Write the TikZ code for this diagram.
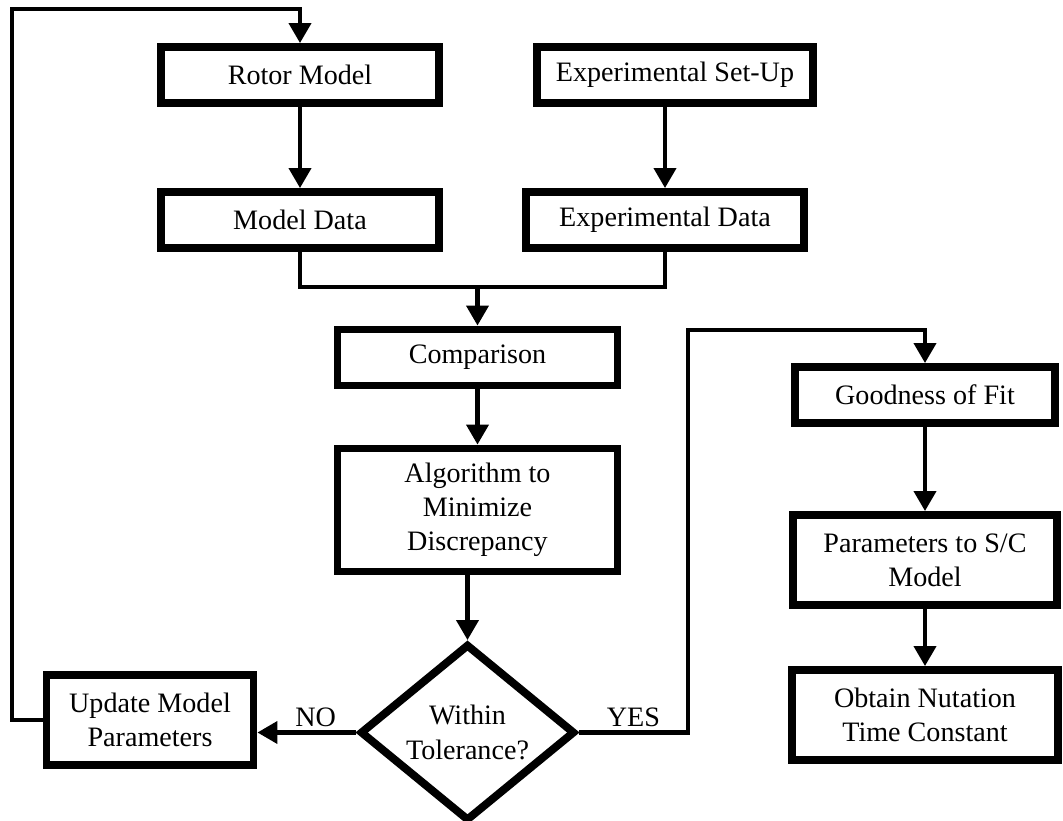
\documentclass[tikz,border=0pt]{standalone}
\usepackage{fontspec}
\setmainfont{Liberation Serif}
\usepackage{tikz}
\usetikzlibrary{shapes.geometric, arrows.meta, positioning}
\tikzstyle{box} = [
    rectangle, minimum width=5.56cm, minimum height=1.12cm, inner sep=2pt,
    text centered, align=center, draw=black, line width=4.5pt,
    font=\fontsize{16}{19.5}\selectfont
]
\tikzstyle{box_tall} = [box, minimum height=1.8cm]
\tikzstyle{decision} = [
    diamond, draw=black, line width=4.5pt, align=center, text centered,
    minimum width=4.3cm, minimum height=3.25cm, inner sep=0pt,
    font=\fontsize{16}{19.5}\selectfont
]
\tikzstyle{arrow} = [line width=2.3pt, -{Triangle[length=0.4cm, width=0.44cm]}]
\tikzstyle{line} = [line width=2.3pt]
\tikzstyle{answer} = [font=\fontsize{16}{19.5}\selectfont, inner sep=2pt]

\begin{document}
\begin{tikzpicture}[node distance=2.9cm]
\useasboundingbox (0,0) rectangle (21.26,-16.42);
% Blocos do modelo e do experimento
\node (rotor) [box] at (6.0,-1.5) {Rotor Model};
\node (setup) [box, right of=rotor, xshift=4.6cm, minimum width=5.52cm] {Experimental Set-Up};
\node (mdata) [box, below of=rotor] {Model Data};
\node (edata) [box, below of=setup, xshift=-0.2cm] {Experimental Data};
\node (cmp) [box, below of=mdata, xshift=3.55cm, yshift=0.15cm, minimum width=5.6cm] {Comparison};
\node (algo) [box, below of=cmp, yshift=-0.15cm, minimum width=5.6cm, minimum height=2.46cm] {Algorithm to\\Minimize\\Discrepancy};
\node (tol) [decision, below of=algo, xshift=-0.2cm, yshift=-1.55cm] {Within\\Tolerance?};
\node (update) [box_tall, left of=tol, xshift=-3.45cm, yshift=0.25cm, minimum width=4.14cm] {Update Model\\Parameters};

% Lado direito
\node (fit) [box, right of=cmp, xshift=6.05cm, yshift=-0.75cm, minimum width=5.2cm] {Goodness of Fit};
\node (params) [box_tall, below of=fit, yshift=-0.4cm, minimum width=5.28cm] {Parameters to S/C\\Model};
\node (obtain) [box_tall, below of=params, yshift=-0.2cm, minimum width=5.32cm] {Obtain Nutation\\Time Constant};

\coordinate (join) at (9.55,-5.74);
\coordinate (loop) at (0.24,-0.18);
\coordinate (yes) at (13.76,-6.6);

% Conexoes
\draw [arrow] (rotor) -- (mdata);
\draw [arrow] (edata.north |- setup.south) -- (edata.north);
\draw [line] (mdata.south) |- (join) -| (edata.south);
\draw [arrow] (join) -- (join |- cmp.north);
\draw [arrow] (cmp) -- (algo);
\draw [arrow] (tol.north |- algo.south) -- (tol.north);
\draw [arrow] (tol.west) -- node[answer, above, pos=0.41] {NO} (tol.west -| update.east);
\draw [arrow] (update.west) -| (loop) -| (rotor.north);
\draw [arrow] (tol.east) -| node[answer, above, pos=0.25] {YES} (yes) -| (fit.north);
\draw [arrow] (params.north |- fit.south) -- (params.north);
\draw [arrow] (obtain.north |- params.south) -- (obtain.north);

\end{tikzpicture}
\end{document}
